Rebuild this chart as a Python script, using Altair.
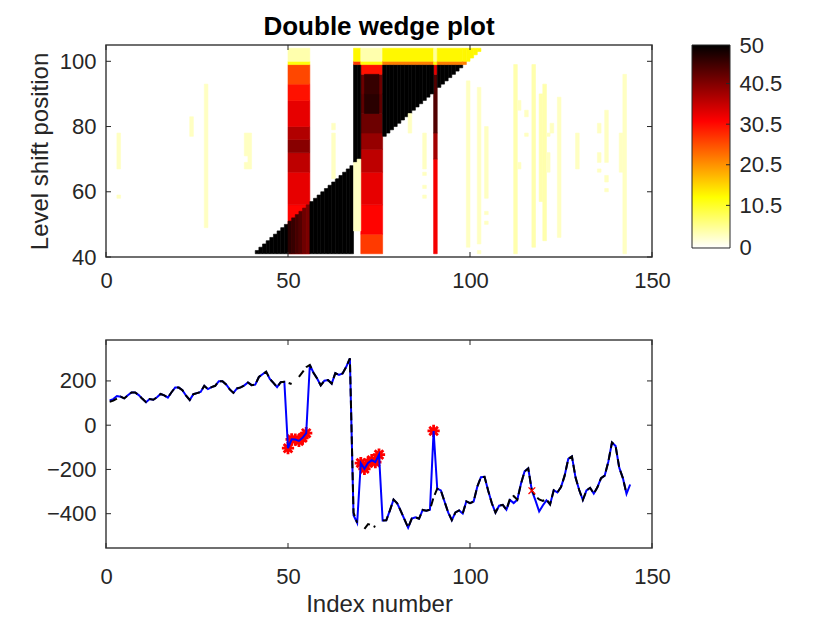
import altair as alt
import pandas as pd

# ---------------- bottom panel: series ----------------
index = list(range(1, 145))
observed = [112, 118, 132, 129, 121, 135, 148, 148, 136, 119, 104, 118,
            115, 126, 141, 135, 125, 149, 170, 170, 158, 133, 114, 140,
            145, 150, 178, 163, 172, 178, 199, 199, 184, 162, 146, 166,
            171, 180, 193, 181, 183, 218, 230, 242, 209, 191, 172, 194,
            196, -104, -64, -65, -71, -57, -36, 272, 237, 211, 180, 201,
            204, 188, 235, 227, 234, 264, 302, -407, -441, -171, -197, -171,
            -158, -167, -133, -431, -430, -385, -336, -353, -388, -426, -463, -422,
            -416, -423, -383, -387, -382, -26, -287, -295, -345, -394, -429, -394,
            -385, -399, -344, -352, -345, -278, -235, -233, -296, -353, -395, -364,
            -360, -382, -338, -352, -337, -265, -209, -195, -296, -341, -390, -363,
            -340, -358, -294, -304, -280, -228, -152, -141, -237, -293, -338, -295,
            -283, -309, -281, -239, -228, -165, -78, -94, -192, -239, -310, -268]
fitted = [106, 111, 120, 129, 121, 135, 148, 148, 136, 119, 104, 118,
          115, 126, 141, 135, 125, 149, 170, 170, 158, 133, 114, 140,
          145, 150, 178, 163, 172, 178, 199, 199, 184, 162, 146, 166,
          171, 180, 193, 181, 183, 218, 230, 242, 209, 191, 172, 194,
          196, 192, 186, None, 218, 240, 262, 272, 237, 211, 180, 201,
          204, 188, 235, 227, 234, 264, 302, -395, -441, None, -469, -447,
          -452, -460, None, -431, -430, -385, -336, -353, -388, -426, -463, -422,
          -416, -423, -383, -387, -382, -326, -287, -295, -345, -394, -429, -394,
          -385, -399, -344, -352, -345, -278, -235, -233, -296, -353, -395, -364,
          -360, -382, -330, -320, -337, -265, -209, -195, -296, -322, -335, -342,
          -335, -358, -294, -304, -280, -228, -152, -141, -237, -293, -338, -295,
          -283, -309, -281, -239, -228, -165, -78, -94, -192, -239, -310, None]
outlier_idx = [50, 51, 52, 53, 54, 55, 70, 71, 72, 73, 74, 75, 90]
outlier_val = [-104, -64, -65, -71, -57, -36, -171, -197, -171, -158, -167, -133, -26]
minor_idx = [117]
minor_val = [-296]

# ---------------- top panel: heat map blocks ----------------
# red columns (x0, x1, y0, y1, value)
col_x0 = [50, 50, 50, 50, 50, 50, 50, 50,
          70, 70, 70, 70, 70, 70, 70, 70, 70,
          71, 71,
          90, 90, 90, 90]
col_x1 = [56, 56, 56, 56, 56, 56, 56, 56,
          76, 76, 76, 76, 76, 76, 76, 76, 76,
          75, 75,
          91, 91, 91, 91]
col_y0 = [41, 56, 66, 72, 76, 80, 88, 93,
          41, 47, 56, 66, 73, 78, 84, 90, 96,
          84, 90,
          41, 70, 78, 96]
col_y1 = [56, 66, 72, 76, 80, 88, 93, 99,
          47, 56, 66, 73, 78, 84, 90, 96, 99,
          90, 96,
          70, 78, 96, 99]
col_v = [31, 33, 36, 40, 37, 33, 30, 26,
         27, 31, 33, 36, 39, 42, 43, 42, 30,
         47, 46,
         32, 38, 44, 33]

# lower wedge: column and top of the filled run (from level 41)
lower_cols = [41, 42, 43, 44, 45, 46, 47, 48, 49, 50, 51, 52, 53, 54,
              55, 56, 57, 58, 59, 60, 61, 62, 63, 64, 65, 66, 67]
lower_top = [42, 43, 44, 45, 46, 47, 48, 49, 50, 51, 52, 53, 54, 55,
             56, 57, 58, 59, 60, 61, 62, 63, 64, 65, 66, 67, 68]
lower_val = [50, 50, 50, 50, 50, 50, 50, 50, 50, 47, 46, 45, 44, 42,
             41, 50, 50, 50, 50, 50, 50, 50, 50, 50, 50, 50, 50]

# upper wedge: column and bottom of the filled run (up to level 99)
upper_cols = [68, 69, 76, 77, 78, 79, 80, 81, 82, 83, 84, 85, 86, 87, 88, 89,
              91, 92, 93, 94, 95, 96, 97]
upper_bottom = [69, 70, 77, 78, 79, 80, 81, 82, 83, 84, 85, 86, 87, 88, 89, 90,
                92, 93, 94, 95, 96, 97, 98]

# top band
band_x0 = [50, 50, 68, 68, 70, 70, 76, 76, 90, 90, 91, 91, 98, 98, 99, 100, 101, 102]
band_x1 = [56, 56, 70, 70, 76, 76, 90, 90, 91, 91, 98, 98, 99, 99, 100, 101, 102, 103]
band_y0 = [99, 100, 99, 100, 99, 100, 99, 100, 99, 100, 99, 100, 99, 100, 100, 101, 102, 103]
band_y1 = [100, 104, 100, 104, 100, 104, 100, 104, 100, 104, 100, 104, 100, 104, 104, 104, 104, 104]
band_v = [12, 4, 27, 13, 12, 4, 22, 13, 12, 5, 22, 13, 22, 13, 13, 13, 13, 13]

# faint streaks (column, y0, y1, value)
streak_col = [3, 3, 23, 27, 38, 38, 39, 62, 62, 68, 69, 83, 87, 87, 87, 87,
              99, 102, 102, 104, 104, 104, 112, 113, 113, 115, 115, 117, 119, 120,
              121, 121, 122, 124, 129, 135, 135, 135, 137, 137, 137, 141, 142]
streak_y0 = [67, 58, 77, 49, 71, 67, 67, 64, 79, 48, 48, 78, 67, 65, 61, 58,
             43, 44, 41, 58, 53, 50, 41, 85, 67, 83, 77, 43, 57, 45,
             66, 77, 78, 46, 67, 78, 69, 66, 69, 63, 60, 66, 41]
streak_y1 = [78, 59, 83, 93, 78, 69, 78, 78, 81, 69, 70, 84, 78, 66, 62, 59,
             94, 92, 42, 80, 54, 51, 99, 88, 69, 85, 78, 99, 90, 93,
             72, 78, 81, 89, 78, 81, 72, 67, 85, 65, 61, 78, 96]
streak_v = [3, 3, 3, 3, 3, 3, 3, 3, 3, 3, 3, 3, 3, 3, 3, 3,
            3, 3, 3, 3, 3, 3, 4, 3, 3, 3, 3, 4, 4, 4,
            3, 3, 3, 3, 3, 3, 3, 3, 3, 3, 3, 3, 3]

cbar_ticks = [0, 10.5, 20.5, 30.5, 40.5, 50]
x_ticks = [0, 50, 100, 150]
top_y_ticks = [40, 60, 80, 100]
bot_y_ticks = [-400, -200, 0, 200]

# ---------------- assemble tables ----------------
rows = []
for a, b, c, d, v in zip(col_x0, col_x1, col_y0, col_y1, col_v):
    rows.append(dict(x0=a, x1=b, y0=c, y1=d, v=v))
for c, t, v in zip(lower_cols, lower_top, lower_val):
    rows.append(dict(x0=c, x1=c + 1, y0=41, y1=t, v=v))
for c, b in zip(upper_cols, upper_bottom):
    rows.append(dict(x0=c, x1=c + 1, y0=b, y1=99, v=50))
for a, b, c, d, v in zip(band_x0, band_x1, band_y0, band_y1, band_v):
    rows.append(dict(x0=a, x1=b, y0=c, y1=d, v=v))
for c, a, b, v in zip(streak_col, streak_y0, streak_y1, streak_v):
    rows.append(dict(x0=c, x1=c + 1, y0=a, y1=b, v=v))
heat = pd.DataFrame(rows)
heat["order"] = range(len(heat))

seg = 0
line_rows = []
for i, f in zip(index, fitted):
    if f is None:
        seg += 1
        continue
    line_rows.append(dict(i=i, f=f, seg=seg))
fit_df = pd.DataFrame(line_rows)
obs_df = pd.DataFrame(dict(i=index, o=observed))
out_df = pd.DataFrame(dict(i=outlier_idx, v=outlier_val))
minor_df = pd.DataFrame(dict(i=minor_idx, v=minor_val))

FONT = "Liberation Sans"
AX = "#262626"
W = 546
H1 = 212
H2 = 208
CB_LEFT = 586   # colorbar position relative to the top plot area
CB_W = 38

xscale = alt.Scale(domain=[0, 150], nice=False, zero=False)
hscale = alt.Scale(domain=[40, 105], nice=False, zero=False)
bscale = alt.Scale(domain=[-555, 385], nice=False, zero=False)
cbscale = alt.Scale(domain=[-2.22, 50], nice=False, zero=False)
cscale = alt.Scale(domain=[0, 12.5, 31.25, 50],
                   range=["#ffffff", "#ffff00", "#ff0000", "#000000"],
                   interpolate="rgb")

xaxis = alt.Axis(values=x_ticks, title=None, labelPadding=13, labelFlush=False)
top_yaxis = alt.Axis(values=top_y_ticks, title="Level shift position",
                     labelPadding=10, titlePadding=7)

heat_layer = alt.Chart(heat).mark_rect(strokeWidth=0.6).encode(
    x=alt.X("x0:Q", scale=xscale, axis=xaxis),
    x2="x1:Q",
    y=alt.Y("y0:Q", scale=hscale, axis=top_yaxis),
    y2="y1:Q",
    color=alt.Color("v:Q", scale=cscale, legend=None),
    stroke=alt.Stroke("v:Q", scale=cscale, legend=None),
    order="order:Q",
)


def xtick_rules(h, ax):
    d = pd.DataFrame(dict(t=x_ticks))
    bot = alt.Chart(d).mark_rule(color=AX, strokeWidth=1).encode(
        x=alt.X("t:Q", scale=xscale, axis=ax), y=alt.value(h), y2=alt.value(h - 5))
    top = alt.Chart(d).mark_rule(color=AX, strokeWidth=1).encode(
        x=alt.X("t:Q", scale=xscale, axis=ax), y=alt.value(0), y2=alt.value(5))
    return [bot, top]


def ytick_rules(vals, sc, ax):
    d = pd.DataFrame(dict(t=vals))
    left = alt.Chart(d).mark_rule(color=AX, strokeWidth=1).encode(
        y=alt.Y("t:Q", scale=sc, axis=ax), x=alt.value(0), x2=alt.value(5))
    right = alt.Chart(d).mark_rule(color=AX, strokeWidth=1).encode(
        y=alt.Y("t:Q", scale=sc, axis=ax), x=alt.value(W), x2=alt.value(W - 5))
    return [left, right]


# colorbar drawn beside the heat map with its own y scale
cb_df = pd.DataFrame(dict(lo=[0], hi=[50]))
grad = alt.LinearGradient(
    gradient="linear", x1=0, x2=0, y1=1, y2=0,
    stops=[alt.GradientStop(color="#ffffff", offset=0),
           alt.GradientStop(color="#ffff00", offset=0.25),
           alt.GradientStop(color="#ff0000", offset=0.625),
           alt.GradientStop(color="#000000", offset=1)])
cb_axis = alt.Axis(orient="right", values=cbar_ticks, format=".1~f",
                   title=None, labelPadding=9, offset=CB_LEFT + CB_W - W)
cbar = alt.Chart(cb_df).mark_rect(fill=grad, stroke=AX, strokeWidth=1).encode(
    y=alt.Y("lo:Q", scale=cbscale, axis=cb_axis),
    y2="hi:Q",
    x=alt.value(CB_LEFT), x2=alt.value(CB_LEFT + CB_W),
)
cb_tick_df = pd.DataFrame(dict(t=cbar_ticks[1:-1]))
cb_ticks = alt.Chart(cb_tick_df).mark_rule(color=AX, strokeWidth=1).encode(
    y=alt.Y("t:Q", scale=cbscale, axis=cb_axis),
    x=alt.value(CB_LEFT + CB_W), x2=alt.value(CB_LEFT + CB_W - 4))

heat_group = alt.layer(heat_layer, *xtick_rules(H1, xaxis),
                       *ytick_rules(top_y_ticks, hscale, top_yaxis))
cb_group = alt.layer(cbar, cb_ticks)

top_panel = alt.layer(heat_group, cb_group).resolve_scale(y="independent").properties(
    width=W, height=H1,
    title=alt.TitleParams("Double wedge plot", fontSize=26, fontWeight="bold",
                          font=FONT, color="#000000", offset=-6, anchor="middle",
                          frame="group"),
)

bx_axis = alt.Axis(values=x_ticks, title="Index number", labelPadding=18,
                   titlePadding=5, labelFlush=False)
by_axis = alt.Axis(values=bot_y_ticks, title=None, labelPadding=10)

red_ast = alt.Chart(out_df).mark_point(
    shape="M-1,0L1,0M0,-1L0,1M-0.7,-0.7L0.7,0.7M-0.7,0.7L0.7,-0.7",
    filled=False, stroke="#ff0000", strokeWidth=2.8, size=150, opacity=1,
).encode(x=alt.X("i:Q", scale=xscale, axis=bx_axis),
         y=alt.Y("v:Q", scale=bscale, axis=by_axis))

blue_line = alt.Chart(obs_df).mark_line(color="#0000ff", strokeWidth=2).encode(
    x=alt.X("i:Q", scale=xscale, axis=bx_axis),
    y=alt.Y("o:Q", scale=bscale, axis=by_axis),
)
black_line = alt.Chart(fit_df).mark_line(color="#000000", strokeWidth=2,
                                         strokeDash=[8, 4]).encode(
    x=alt.X("i:Q", scale=xscale, axis=bx_axis),
    y=alt.Y("f:Q", scale=bscale, axis=by_axis),
    detail="seg:N",
)
red_x = alt.Chart(minor_df).mark_point(
    shape="M-1,-1L1,1M-1,1L1,-1", filled=False, stroke="#ff0000",
    strokeWidth=1.3, size=45, opacity=1,
).encode(x=alt.X("i:Q", scale=xscale, axis=bx_axis),
         y=alt.Y("v:Q", scale=bscale, axis=by_axis))

bottom_panel = alt.layer(
    red_ast, blue_line, black_line, red_x,
    *xtick_rules(H2, bx_axis), *ytick_rules(bot_y_ticks, bscale, by_axis)
).properties(width=W, height=H2)

chart = alt.vconcat(top_panel, bottom_panel, spacing=83, bounds="flush").properties(
    padding={"left": 19, "top": 5, "right": 5, "bottom": 2}
).configure_view(
    stroke="#404040", strokeWidth=1.5
).configure_axis(
    labelFont=FONT, labelFontSize=22, labelColor=AX,
    titleFont=FONT, titleFontSize=24, titleFontWeight="normal", titleColor=AX,
    grid=False, domain=False, ticks=False,
)

chart.save("out.html", embed_options={"renderer": "svg", "actions": False})
